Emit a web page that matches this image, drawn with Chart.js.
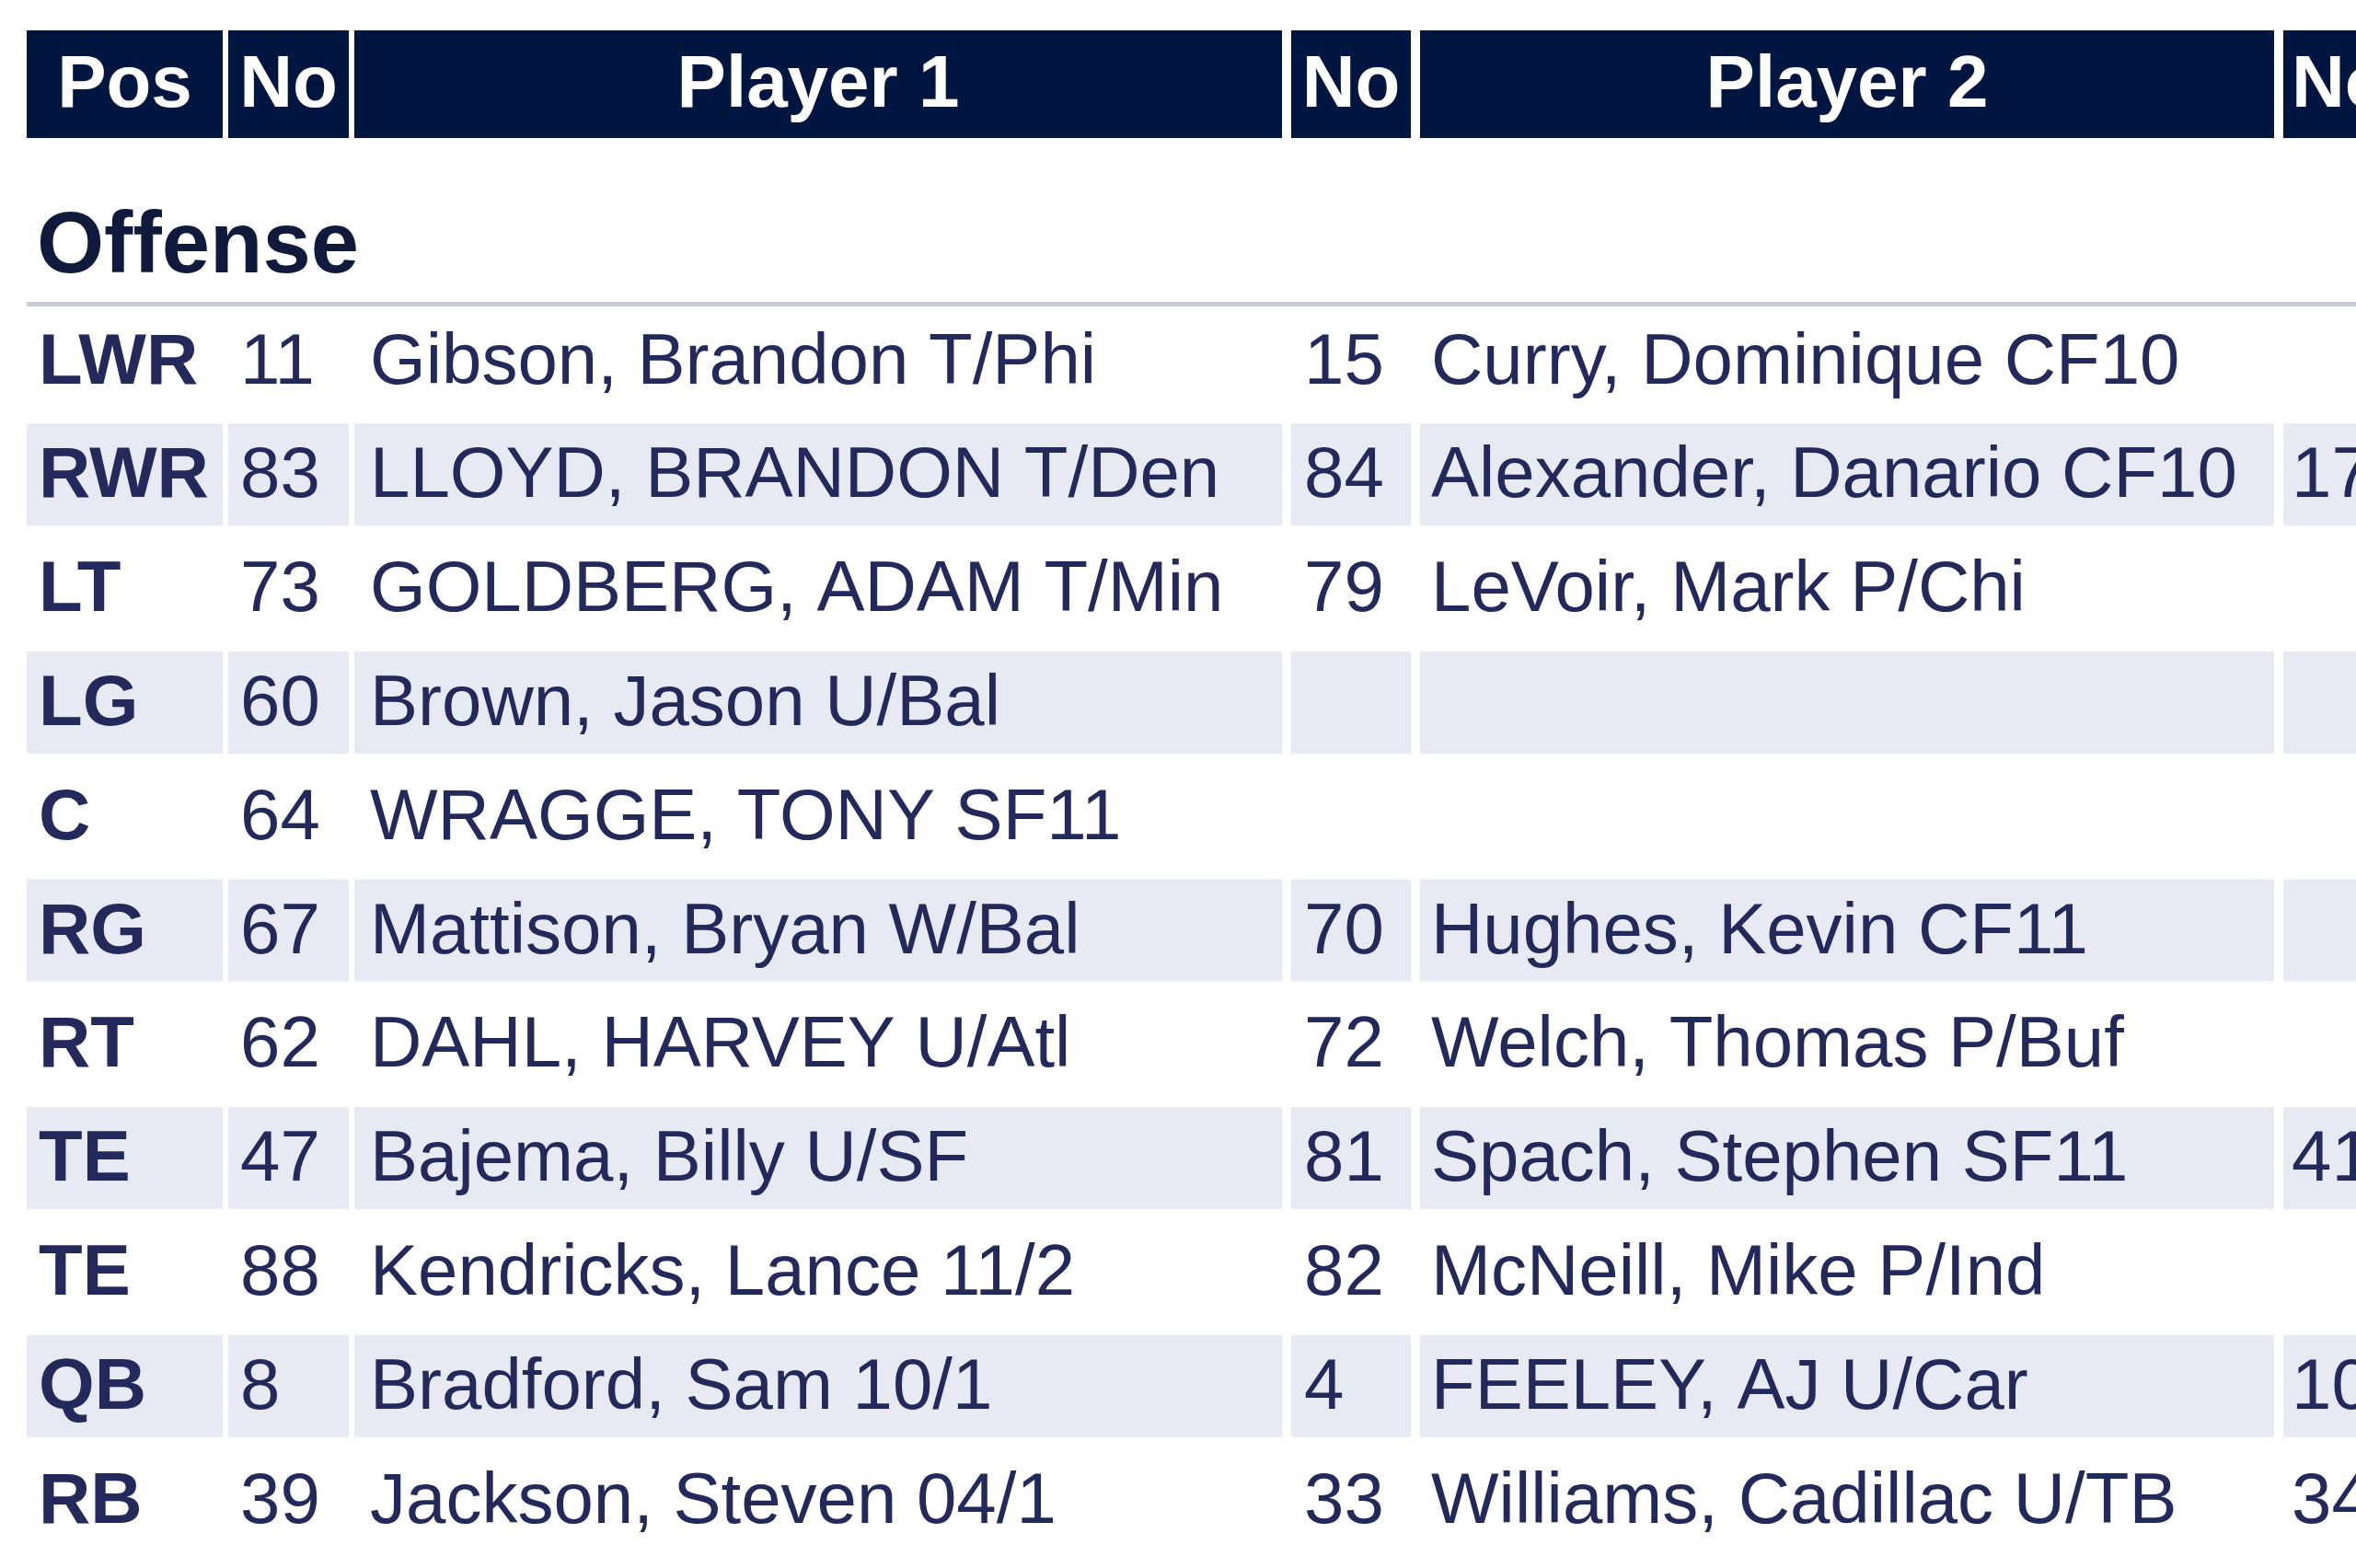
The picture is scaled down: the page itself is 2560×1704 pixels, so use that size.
<!DOCTYPE html>
<html><head><meta charset="utf-8">
<script src="https://cdn.jsdelivr.net/npm/chart.js@4"></script>
<style>html,body{margin:0;padding:0;background:#fff;overflow:hidden}canvas{display:block}</style>
</head><body>
<canvas id="c" width="2560" height="1704"></canvas>
<script>
const headers = ['Pos','No','Player 1','No','Player 2','No'];
const section = 'Offense';
const pos = ['LWR','RWR','LT','LG','C','RG','RT','TE','TE','QB','RB'];
const no1 = ['11','83','73','60','64','67','62','47','88','8','39'];
const player1 = ['Gibson, Brandon T/Phi','LLOYD, BRANDON T/Den','GOLDBERG, ADAM T/Min','Brown, Jason U/Bal','WRAGGE, TONY SF11','Mattison, Bryan W/Bal','DAHL, HARVEY U/Atl','Bajema, Billy U/SF','Kendricks, Lance 11/2','Bradford, Sam 10/1','Jackson, Steven 04/1'];
const no2 = ['15','84','79','','','70','72','81','82','4','33'];
const player2 = ['Curry, Dominique CF10','Alexander, Danario CF10','LeVoir, Mark P/Chi','','','Hughes, Kevin CF11','Welch, Thomas P/Buf','Spach, Stephen SF11','McNeill, Mike P/Ind','FEELEY, AJ U/Car','Williams, Cadillac U/TB'];
const no3 = ['','17','','','','','','41','','10','34'];

const cols = [[29,242],[248,379],[385,1393],[1403,1533],[1543,2471],[2481,2620]];
const textX = [42,261,402,1417,1555,2490];
const headerAlign = ['center','center','center','center','center','left'];
const layout = {headTop:33, headBot:150, secY:296, lineY:330, row0:392, pitch:123.8, band:111};

const tablePlugin = {
  id:'table',
  afterDraw(chart){
    const ctx = chart.ctx, xs = chart.scales.x, ys = chart.scales.y;
    const X = v=>xs.getPixelForValue(v), Y = v=>ys.getPixelForValue(v);
    ctx.save();
    ctx.fillStyle='#001640';
    cols.forEach(c=>ctx.fillRect(X(c[0]),Y(layout.headTop),X(c[1])-X(c[0]),Y(layout.headBot)-Y(layout.headTop)));
    ctx.fillStyle='#ffffff';
    ctx.font='bold 80px "Liberation Sans", Arial, sans-serif';
    ctx.textBaseline='middle';
    headers.forEach((h,i)=>{
      const c=cols[i];
      if(headerAlign[i]==='center'){ctx.textAlign='center';ctx.fillText(h,(X(c[0])+X(c[1]))/2,Y((layout.headTop+layout.headBot)/2)+2);}
      else {ctx.textAlign='left';ctx.fillText(h,X(textX[i]),Y((layout.headTop+layout.headBot)/2)+2);}
    });
    ctx.fillStyle='#0f1a3c';
    ctx.font='bold 94px "Liberation Sans", Arial, sans-serif';
    ctx.textAlign='left'; ctx.textBaseline='alphabetic';
    ctx.fillText(section,X(40),Y(layout.secY));
    ctx.fillStyle='#c9cdd8';
    ctx.fillRect(X(29),Y(layout.lineY-2),X(2560)-X(29),5);
    const colsData=[pos,no1,player1,no2,player2,no3];
    pos.forEach((p,r)=>{
      const cy=layout.row0+r*layout.pitch;
      if(r%2===1){
        ctx.fillStyle='#e7eaf3';
        cols.forEach(c=>ctx.fillRect(X(c[0]),Y(cy-layout.band/2),X(c[1])-X(c[0]),Y(cy+layout.band/2)-Y(cy-layout.band/2)));
      }
      ctx.textBaseline='middle';
      colsData.forEach((arr,i)=>{
        ctx.fillStyle='#24295c';
        ctx.font=(i===0?'bold ':'')+'78px "Liberation Sans", Arial, sans-serif';
        ctx.fillText(arr[r],X(textX[i]),Y(cy)+3);
      });
    });
    ctx.restore();
  }
};

new Chart(document.getElementById('c'),{
  type:'scatter',
  data:{datasets:[{data:[],pointRadius:0}]},
  options:{
    responsive:false, devicePixelRatio:1, animation:false,
    layout:{padding:0},
    plugins:{legend:{display:false},tooltip:{enabled:false}},
    scales:{
      x:{type:'linear',min:0,max:2560,display:false},
      y:{type:'linear',min:0,max:1704,reverse:true,display:false}
    }
  },
  plugins:[tablePlugin]
});
</script>
</body></html>
